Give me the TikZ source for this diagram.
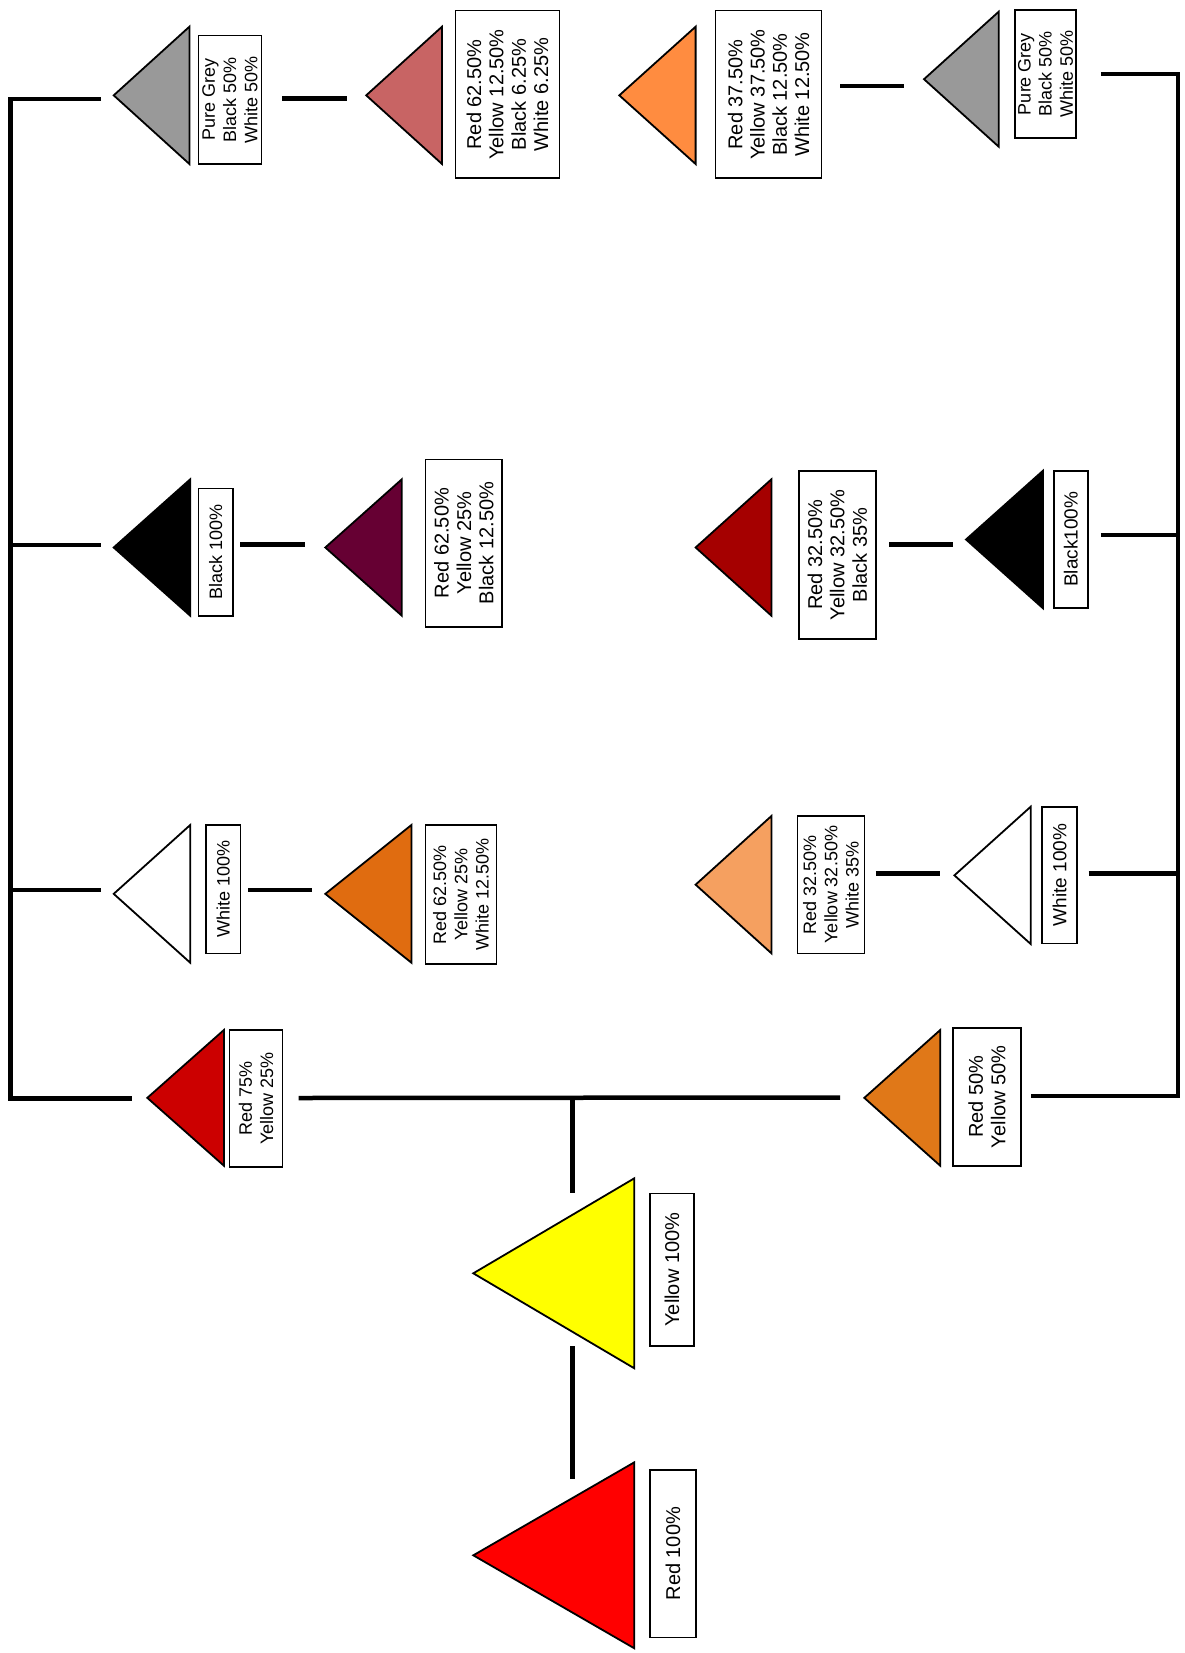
\documentclass[tikz,border=0pt]{standalone}
\usepackage{fontspec}
\setmainfont{Liberation Sans}
\definecolor{cgrey}{HTML}{999999}
\definecolor{crosy}{HTML}{C86464}
\definecolor{corA}{HTML}{FF8C40}
\definecolor{cmaroon}{HTML}{660033}
\definecolor{cdred}{HTML}{A50000}
\definecolor{corB}{HTML}{E06C10}
\definecolor{corC}{HTML}{F5A060}
\definecolor{credB}{HTML}{CC0000}
\definecolor{corD}{HTML}{E07818}
\definecolor{cyel}{HTML}{FFFF00}
\definecolor{cred}{HTML}{FF0000}
\tikzset{
  tribox/.style={inner sep=0pt, outer sep=0pt},
  triline/.style={draw=black, line width=1.8pt, line join=miter},
  lbl/.style={draw=black, line width=1.6pt, fill=white, rotate=90, inner sep=0pt, outer sep=0pt, align=center, font=\fontsize{20}{22.3}\selectfont},
  fsS/.style={font=\fontsize{18}{21.2}\selectfont},
  fsM/.style={font=\fontsize{19}{22}\selectfont},
  conn/.style={line width=4.5pt, line join=miter}
}
\newcommand\mytri[6]{%
  \pgfmathsetmacro\cx{(#2+#3)/2}\pgfmathsetmacro\cy{(#4+#5)/2}%
  \pgfmathsetmacro\ww{#3-#2}\pgfmathsetmacro\hh{#5-#4}%
  \node[tribox, minimum width=\ww pt, minimum height=\hh pt] (#1) at (\cx,\cy) {};
  \filldraw[triline, fill=#6] (#1.west) -- (#1.north east) -- (#1.south east) -- cycle;}
\newcommand\mylbl[7][]{%
  \pgfmathsetmacro\cx{(#3+#4)/2}\pgfmathsetmacro\cy{(#5+#6)/2}%
  \pgfmathsetmacro\ww{#4-#3}\pgfmathsetmacro\hh{#6-#5}%
  \node[lbl, #1, minimum width=\hh pt, minimum height=\ww pt] (#2) at (\cx,\cy) {#7};}
\begin{document}
\begin{tikzpicture}[x=1pt, y=-1pt]
\useasboundingbox (0,0) rectangle (1184,1653);
% triangles
\mytri{tA}{113.7}{189.4}{26.7}{164}{cgrey}
\mytri{tB}{366.2}{442}{26.7}{164}{crosy}
\mytri{tC}{619.3}{695.6}{26.7}{164}{corA}
\mytri{tD}{924}{998.7}{11.7}{146.7}{cgrey}
\mytri{tE}{113.7}{190.2}{479.3}{615.7}{black}
\mytri{tF}{325.3}{401.8}{479.3}{615.7}{cmaroon}
\mytri{tG}{695.6}{771.4}{479.3}{615.7}{cdred}
\mytri{tH}{966}{1043}{470.7}{608.3}{black}
\mytri{tI}{113.7}{190.2}{825}{962.7}{white}
\mytri{tJ}{325.3}{411.4}{825}{962.7}{corB}
\mytri{tK}{695.6}{771.4}{816}{953.3}{corC}
\mytri{tL}{954.4}{1030.7}{806.7}{944}{white}
\mytri{tM}{147.3}{223.9}{1030}{1165.7}{credB}
\mytri{tN}{864.3}{940.2}{1030}{1165.7}{corD}
\mytri{tO}{473.3}{634.3}{1178.3}{1368.3}{cyel}
\mytri{tP}{473.3}{634.3}{1462.3}{1648.3}{cred}
% labels
\mylbl[fsS]{lA}{198.6}{261.4}{35.7}{164}{Pure Grey\\Black 50\%\\White 50\%}
\mylbl{lB}{455.4}{559.5}{10.7}{178.3}{Red 62.50\%\\Yellow 12.50\%\\Black 6.25\%\\White 6.25\%}
\mylbl{lC}{715.6}{821.5}{10.7}{178.3}{Red 37.50\%\\Yellow 37.50\%\\Black 12.50\%\\White 12.50\%}
\mylbl[fsS]{lD}{1015}{1076}{10}{138}{Pure Grey\\Black 50\%\\White 50\%}
\mylbl[fsS]{lE}{198.6}{232.7}{488.3}{615.7}{Black 100\%}
\mylbl{lF}{425.6}{502.1}{459.3}{626.7}{Red 62.50\%\\Yellow 25\%\\Black 12.50\%}
\mylbl{lG}{798.8}{875.8}{470.7}{639}{Red 32.50\%\\Yellow 32.50\%\\Black 35\%}
\mylbl[fsM]{lH}{1053.8}{1087.7}{470.7}{607.7}{Black100\%}
\mylbl[fsS]{lI}{205.9}{240.3}{825}{953.3}{White 100\%}
\mylbl[fsS]{lJ}{425.6}{496.4}{825}{964}{Red 62.50\%\\Yellow 25\%\\White 12.50\%}
\mylbl[fsS]{lK}{797.6}{864.3}{816}{953.3}{Red 32.50\%\\Yellow 32.50\%\\White 35\%}
\mylbl[fsM]{lL}{1042.2}{1076.9}{806.7}{943.3}{White 100\%}
\mylbl[fsS]{lM}{229.6}{282.4}{1030}{1166.7}{Red 75\%\\Yellow 25\%}
\mylbl{lN}{952.9}{1021}{1027.7}{1165.7}{Red 50\%\\Yellow 50\%}
\mylbl{lO}{650}{694}{1193.3}{1346}{Yellow 100\%}
\mylbl{lP}{650}{695.7}{1470}{1637.3}{Red 100\%}
% connector end points
\coordinate (LT1) at (101,99);
\coordinate (LTc) at (10.7,99);
\coordinate (LBc) at (10.7,1098.3);
\coordinate (LB1) at (132,1098.3);
\coordinate (L2a) at (10.7,545);
\coordinate (L2b) at (101,545);
\coordinate (L3a) at (10.7,890);
\coordinate (L3b) at (101,890);
\coordinate (C1a) at (282.4,98.3);
\coordinate (C1b) at (347.1,98.3);
\coordinate (C2a) at (240,544.3);
\coordinate (C2b) at (305,544.3);
\coordinate (C3a) at (248,890);
\coordinate (C3b) at (311.9,890);
\coordinate (M1) at (298.5,1098);
\coordinate (M2) at (840,1097.5);
\coordinate (T1) at (572.5,1098);
\coordinate (T2) at (572.5,1193.3);
\coordinate (T3) at (572.5,1346);
\coordinate (T4) at (572.5,1479);
\coordinate (RT1) at (1100.8,74);
\coordinate (RTc) at (1178,74);
\coordinate (RBc) at (1178,1096);
\coordinate (RB1) at (1030.7,1096);
\coordinate (R2a) at (1100.8,535);
\coordinate (R2b) at (1178,535);
\coordinate (R3a) at (1088.5,873.3);
\coordinate (R3b) at (1178,873.3);
\coordinate (C4a) at (840,86);
\coordinate (C4b) at (903.6,86);
\coordinate (C5a) at (889,544.3);
\coordinate (C5b) at (952.9,544.3);
\coordinate (C6a) at (875.8,873.3);
\coordinate (C6b) at (940.2,873.3);
% connectors
\draw[conn] (LT1) -- (LTc) -- (LBc) -- (LB1);
\draw[conn] (L2a) -- (L2b);
\draw[conn] (L3a) -- (L3b);
\draw[conn] (C1a) -- (C1b);
\draw[conn] (C2a) -- (C2b);
\draw[conn] (C3a) -- (C3b);
\draw[conn] (M1) -- (M2);
\draw[conn] (T1) -- (T2);
\draw[conn] (T3) -- (T4);
\draw[conn] (RT1) -- (RTc) -- (RBc) -- (RB1);
\draw[conn] (R2a) -- (R2b);
\draw[conn] (R3a) -- (R3b);
\draw[conn] (C4a) -- (C4b);
\draw[conn] (C5a) -- (C5b);
\draw[conn] (C6a) -- (C6b);
\end{tikzpicture}
\end{document}
